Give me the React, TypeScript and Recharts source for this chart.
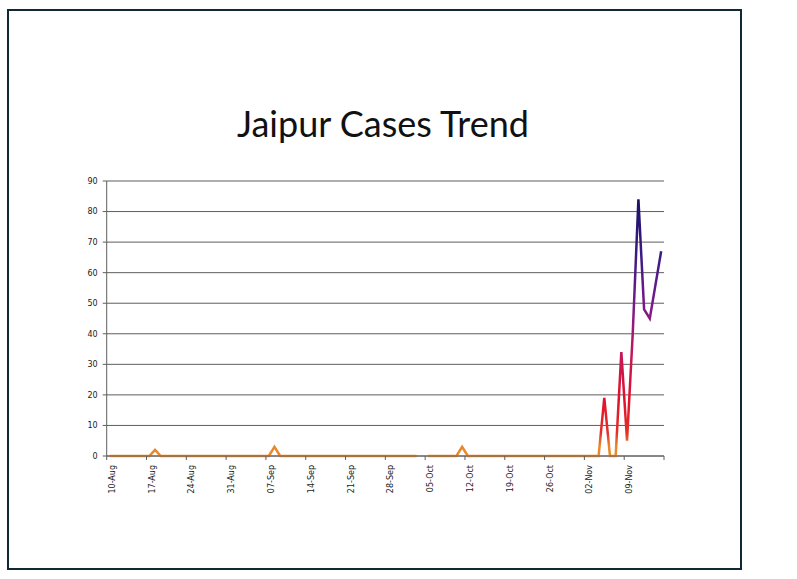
import React from 'react'
import { LineChart, Line, XAxis, YAxis, CartesianGrid } from 'recharts'

// one value per day, 10 Aug .. 15 Nov (null = no report that day)
const cases: (number | null)[] = [
  0, 0, 0, 0, 0, 0, 0,
  0, 2, 0, 0, 0, 0, 0,
  0, 0, 0, 0, 0, 0, 0,
  0, 0, 0, 0, 0, 0, 0,
  0, 3, 0, 0, 0, 0, 0,
  0, 0, 0, 0, 0, 0, 0,
  0, 0, 0, 0, 0, 0, 0,
  0, 0, 0, 0, 0, 0, null,
  0, 0, 0, 0, 0, 0, 3,
  0, 0, 0, 0, 0, 0, 0,
  0, 0, 0, 0, 0, 0, 0,
  0, 0, 0, 0, 0, 0, 0,
  0, 0, 0, 19, 0, 0, 34,
  5, 40, 84, 48, 45, 56, 67,
]

const weekTicks = [0, 7, 14, 21, 28, 35, 42, 49, 56, 63, 70, 77, 84, 91, 98]
const weekLabels = [
  '10-Aug', '17-Aug', '24-Aug', '31-Aug', '07-Sep', '14-Sep', '21-Sep',
  '28-Sep', '05-Oct', '12-Oct', '19-Oct', '26-Oct', '02-Nov', '09-Nov', '',
]
const yTicks = [0, 10, 20, 30, 40, 50, 60, 70, 80, 90]

// points sit in the middle of each day slot, like Excel's date axis
const data = cases.map((v, i) => ({ day: i + 0.5, cases: v }))

const AXIS = '#5e5e5e'
const FONT = '"DejaVu Sans", Verdana, sans-serif'

function DateTick({ x, y, payload }: { x?: number; y?: number; payload?: { value: number } }) {
  const idx = weekTicks.indexOf(payload?.value ?? -1)
  const label = idx >= 0 ? weekLabels[idx] : ''
  return (
    <text
      transform={`translate(${(x ?? 0) + 8},${(y ?? 0) + 3}) rotate(-90)`}
      textAnchor="end"
      fontSize={8}
      fontFamily={FONT}
      fill="#1a1a1a"
    >
      {label}
    </text>
  )
}

export default function App() {
  return (
    <div style={{ position: 'absolute', left: 0, top: 0, width: 797, height: 579, background: '#fff' }}>
      <svg width={797} height={579} style={{ position: 'absolute', left: 0, top: 0 }}>
        <rect x={8} y={10} width={733} height={559} fill="none" stroke="#0f2a35" strokeWidth={2} />
        <text
          x={383}
          y={137}
          textAnchor="middle"
          fontSize={36}
          fontFamily='Lato, "Open Sans", sans-serif'
          fill="#111"
        >
          Jaipur Cases Trend
        </text>
      </svg>
      <div style={{ position: 'absolute', left: 0, top: 0 }}>
        <LineChart
          width={797}
          height={579}
          data={data}
          margin={{ top: 181, right: 133, left: 76.7, bottom: 73 }}
        >
          <defs>
            <linearGradient id="trend" x1="0" y1="0" x2="0" y2="1">
              <stop offset="0" stopColor="#1b1464" />
              <stop offset="0.22" stopColor="#3d1a84" />
              <stop offset="0.42" stopColor="#7a1a8c" />
              <stop offset="0.6" stopColor="#c4175a" />
              <stop offset="0.78" stopColor="#e0122c" />
              <stop offset="0.91" stopColor="#e4302a" />
              <stop offset="0.96" stopColor="#e8862c" />
              <stop offset="1" stopColor="#e98b2c" />
            </linearGradient>
          </defs>
          <CartesianGrid vertical={false} stroke={AXIS} strokeWidth={1} />
          <XAxis
            dataKey="day"
            type="number"
            domain={[0, 98]}
            ticks={weekTicks}
            interval={0}
            height={50}
            tickSize={4}
            stroke={AXIS}
            tick={<DateTick />}
          />
          <YAxis
            type="number"
            domain={[0, 90]}
            ticks={yTicks}
            interval={0}
            width={30}
            tickSize={4}
            tickMargin={5}
            stroke={AXIS}
            tick={{ fontSize: 8, fontFamily: FONT, fill: '#1a1a1a' }}
          />
          <Line
            dataKey="cases"
            type="linear"
            stroke="url(#trend)"
            strokeWidth={2.5}
            dot={false}
            activeDot={false}
            isAnimationActive={false}
          />
        </LineChart>
      </div>
    </div>
  )
}
